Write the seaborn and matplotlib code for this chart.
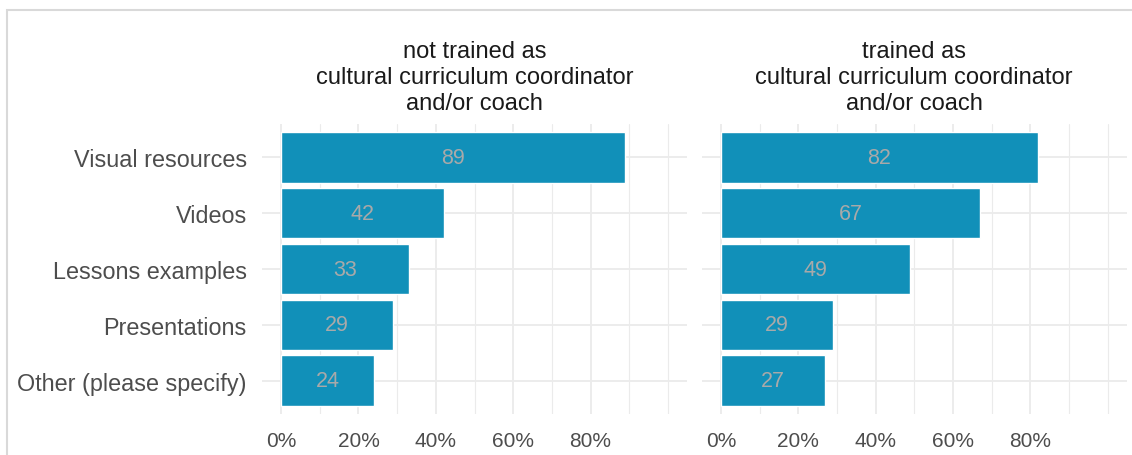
import pandas as pd
import seaborn as sns
import matplotlib.pyplot as plt
from matplotlib.patches import Rectangle
from matplotlib.ticker import FixedLocator, FuncFormatter

# data
categories = ["Visual resources", "Videos", "Lessons examples", "Presentations", "Other (please specify)"]
not_trained = [89, 42, 33, 29, 24]
trained = [82, 67, 49, 29, 27]
panel_titles = ["not trained as\ncultural curriculum coordinator\nand/or coach",
                "trained as\ncultural curriculum coordinator\nand/or coach"]

df = pd.DataFrame({
    "item": categories * 2,
    "pct": not_trained + trained,
    "group": [panel_titles[0]] * 5 + [panel_titles[1]] * 5,
})

sns.set_style("white")
plt.rcParams["font.family"] = ["Liberation Sans", "DejaVu Sans"]

bar_col = "#1190b9"
grid_col = "#ebebeb"

fig = plt.figure(figsize=(11.32, 4.56), dpi=100)
ax1 = fig.add_axes([262 / 1132, 1 - 415 / 456, 425 / 1132, 290 / 456])
ax2 = fig.add_axes([701.7 / 1132, 1 - 415 / 456, 425 / 1132, 290 / 456])

for ax, title in zip([ax1, ax2], panel_titles):
    sub = df[df["group"] == title]
    sns.barplot(data=sub, x="pct", y="item", order=categories, color=bar_col,
                saturation=1, width=0.9, ax=ax, orient="h")
    for i, v in enumerate(sub["pct"]):
        ax.text(v / 2, i, str(v), ha="center", va="center", color="#a9a9a9", fontsize=15.5)
    ax.set_xlim(-4.95, 104.95)
    ax.set_ylim(4.6, -0.6)
    ax.xaxis.set_major_locator(FixedLocator([0, 20, 40, 60, 80]))
    ax.xaxis.set_minor_locator(FixedLocator([10, 30, 50, 70, 90, 100]))
    ax.xaxis.set_major_formatter(FuncFormatter(lambda v, p: f"{v:.0f}%"))
    ax.grid(True, which="major", color=grid_col, lw=1.3)
    ax.grid(True, which="minor", axis="x", color=grid_col, lw=0.8)
    ax.set_axisbelow(True)
    for s in ax.spines.values():
        s.set_visible(False)
    ax.tick_params(axis="both", length=0, colors="#4d4d4d", labelsize=15)
    ax.tick_params(axis="x", pad=12)
    ax.tick_params(axis="y", pad=11, labelsize=16.8)
    ax.set_xlabel("")
    ax.set_ylabel("")
    ax.set_title(title, fontsize=17, color="#1a1a1a", pad=11, linespacing=1.22)

ax2.set_yticklabels([])

# light frame around the plot
fig.patches.append(Rectangle((7 / 1132, -0.2), 1.2, 1 - 11 / 456 + 0.2, transform=fig.transFigure,
                             fill=False, edgecolor="#d9d9d9", lw=1.5))

fig.savefig("out.png", dpi=100)
